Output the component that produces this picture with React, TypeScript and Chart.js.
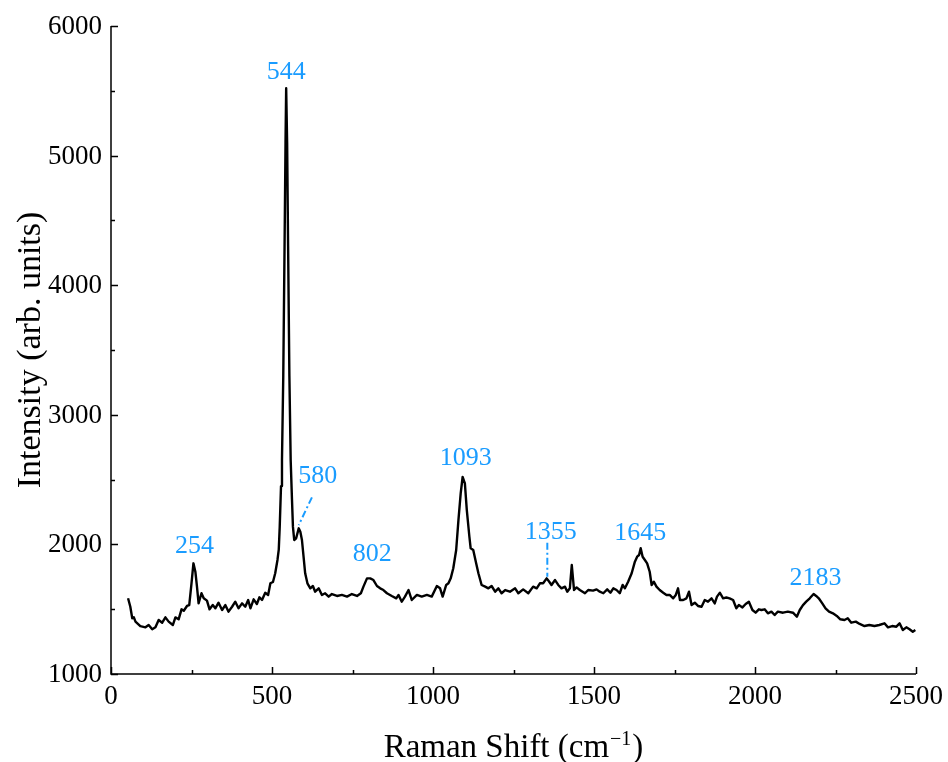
import React, { useEffect, useRef } from 'react';
import { Chart, registerables } from 'chart.js';

Chart.register(...registerables);

// Raman spectrum
const ramanShift = [
  53, 60, 66, 71, 76, 91, 107, 117, 128, 138, 148, 159, 169, 179, 192, 200, 210, 219, 226, 236,
  243, 250, 256, 262, 267, 272, 281, 288, 298, 306, 316, 324, 334, 345, 355, 365, 376, 386, 396, 407,
  417, 426, 433, 443, 453, 461, 469, 479, 488, 495, 503, 510, 517, 521, 524, 528, 531, 535, 539, 542,
  544, 547, 550, 554, 558, 562, 565, 569, 575, 583, 588, 593, 598, 603, 610, 619, 627, 634, 645, 655,
  665, 676, 686, 702, 717, 733, 748, 764, 776, 784, 795, 805, 815, 826, 836, 846, 857, 872, 886, 893,
  903, 913, 924, 934, 950, 965, 981, 996, 1012, 1022, 1030, 1041, 1048, 1055, 1063, 1072, 1079, 1086, 1092, 1099,
  1105, 1113, 1117, 1125, 1134, 1141, 1151, 1162, 1172, 1182, 1193, 1203, 1213, 1224, 1239, 1255, 1265, 1280, 1296, 1311,
  1322, 1332, 1342, 1353, 1361, 1368, 1379, 1389, 1399, 1410, 1417, 1425, 1431, 1438, 1446, 1456, 1472, 1482, 1497, 1508,
  1518, 1529, 1541, 1551, 1560, 1570, 1580, 1589, 1596, 1606, 1617, 1627, 1634, 1640, 1645, 1651, 1658, 1665, 1673, 1679,
  1686, 1694, 1704, 1715, 1725, 1735, 1746, 1754, 1761, 1767, 1777, 1787, 1795, 1803, 1813, 1823, 1834, 1844, 1854, 1865,
  1875, 1882, 1891, 1901, 1911, 1921, 1932, 1942, 1950, 1961, 1971, 1981, 1992, 2002, 2012, 2020, 2030, 2040, 2051, 2061,
  2071, 2087, 2102, 2118, 2130, 2139, 2149, 2159, 2170, 2182, 2190, 2198, 2209, 2219, 2230, 2242, 2254, 2265, 2278, 2288,
  2299, 2313, 2325, 2340, 2355, 2371, 2386, 2402, 2413, 2426, 2439, 2449, 2459, 2470, 2480, 2490, 2498,
];

const intensity = [
  1584, 1519, 1430, 1437, 1404, 1370, 1360, 1378, 1345, 1360, 1417, 1396, 1437, 1404, 1378, 1437, 1422, 1499, 1488, 1525,
  1532, 1700, 1854, 1789, 1674, 1545, 1623, 1584, 1566, 1499, 1532, 1507, 1550, 1494, 1532, 1481, 1519, 1558, 1507, 1545,
  1519, 1571, 1507, 1576, 1540, 1592, 1571, 1627, 1610, 1700, 1710, 1777, 1880, 1960, 2137, 2450, 2651, 3300, 4300, 5100,
  5520, 5100, 4300, 3300, 2651, 2350, 2137, 2034, 2047, 2124, 2098, 2034, 1905, 1777, 1700, 1661, 1679, 1635, 1661, 1610,
  1623, 1597, 1617, 1602, 1610, 1597, 1617, 1602, 1623, 1674, 1738, 1738, 1725, 1679, 1661, 1648, 1623, 1602, 1584, 1610,
  1558, 1597, 1648, 1571, 1610, 1597, 1610, 1597, 1679, 1661, 1597, 1687, 1700, 1738, 1816, 1957, 2188, 2394, 2520, 2471,
  2265, 2059, 1970, 1957, 1854, 1777, 1687, 1674, 1661, 1679, 1635, 1661, 1623, 1648, 1635, 1661, 1623, 1653, 1623, 1674,
  1661, 1700, 1700, 1738, 1712, 1687, 1725, 1687, 1661, 1674, 1635, 1661, 1841, 1648, 1668, 1648, 1623, 1648, 1643, 1653,
  1635, 1623, 1653, 1627, 1661, 1648, 1623, 1687, 1661, 1712, 1777, 1867, 1905, 1918, 1970, 1905, 1880, 1854, 1789, 1687,
  1712, 1674, 1648, 1627, 1610, 1610, 1584, 1610, 1661, 1571, 1571, 1584, 1635, 1532, 1550, 1525, 1519, 1571, 1558, 1584,
  1545, 1597, 1627, 1584, 1590, 1584, 1571, 1507, 1532, 1514, 1540, 1558, 1494, 1473, 1499, 1494, 1499, 1468, 1481, 1455,
  1481, 1473, 1481, 1473, 1442, 1494, 1532, 1558, 1584, 1617, 1602, 1584, 1545, 1507, 1481, 1468, 1448, 1422, 1417, 1430,
  1396, 1404, 1386, 1370, 1378, 1370, 1378, 1391, 1360, 1370, 1365, 1391, 1339, 1360, 1345, 1326, 1339,
];

// Axis ranges and tick steps
const xRange = [0, 2500];
const yRange = [1000, 6000];
const xMajorStep = 500;
const yMajorStep = 1000;

// Peak annotations (label text and the data point the text sits above)
const peakLabels = ['254', '544', '580', '802', '1093', '1355', '1645', '2183'];
const peakLabelX = [259, 544, 642, 811, 1102, 1366, 1644, 2188];
const peakLabelY = [1930, 5590, 2471, 1872, 2613, 2039, 2034, 1687];

// Dash-dot leader lines for the 580 and 1355 labels
const leaderStartX = [624, 1355];
const leaderStartY = [2363, 2013];
const leaderEndX = [583, 1355];
const leaderEndY = [2149, 1751];

const SERIF = "'Liberation Serif', 'Times New Roman', serif";
const ANNOT_COLOR = '#1a9cff';

const decorPlugin = {
  id: 'decor',
  afterDraw(chart: any) {
    const { ctx, chartArea: a } = chart;
    const xs = chart.scales.x;
    const ys = chart.scales.y;
    ctx.save();

    // spines
    ctx.strokeStyle = '#000';
    ctx.lineWidth = 1.5;
    ctx.beginPath();
    ctx.moveTo(a.left, a.top);
    ctx.lineTo(a.left, a.bottom);
    ctx.lineTo(a.right, a.bottom);
    ctx.stroke();

    // ticks (inward), majors from the scale, minors halfway
    const yt = ys.ticks.map((t: any) => t.value);
    const xt = xs.ticks.map((t: any) => t.value);
    ctx.beginPath();
    yt.forEach((v: number, i: number) => {
      const py = Math.round(ys.getPixelForValue(v)) + 0.5;
      ctx.moveTo(a.left, py);
      ctx.lineTo(a.left + 7, py);
      if (i < yt.length - 1) {
        const pm = Math.round(ys.getPixelForValue((v + yt[i + 1]) / 2)) + 0.5;
        ctx.moveTo(a.left, pm);
        ctx.lineTo(a.left + 4, pm);
      }
    });
    xt.forEach((v: number, i: number) => {
      const px = Math.round(xs.getPixelForValue(v)) + 0.5;
      ctx.moveTo(px, a.bottom);
      ctx.lineTo(px, a.bottom - 7);
      if (i < xt.length - 1) {
        const pm = Math.round(xs.getPixelForValue((v + xt[i + 1]) / 2)) + 0.5;
        ctx.moveTo(pm, a.bottom);
        ctx.lineTo(pm, a.bottom - 4);
      }
    });
    ctx.stroke();

    // tick labels
    ctx.fillStyle = '#000';
    ctx.font = `27px ${SERIF}`;
    ctx.textAlign = 'right';
    ctx.textBaseline = 'middle';
    yt.forEach((v: number) => {
      ctx.fillText(String(v), a.left - 9, ys.getPixelForValue(v) + 1);
    });
    ctx.textAlign = 'center';
    ctx.textBaseline = 'alphabetic';
    xt.forEach((v: number) => {
      ctx.fillText(String(v), xs.getPixelForValue(v), a.bottom + 30);
    });

    // x title with superscript
    const cx = (a.left + a.right) / 2;
    const mainFont = `33px ${SERIF}`;
    const supFont = `20px ${SERIF}`;
    const part1 = 'Raman Shift (cm';
    const sup = '\u22121';
    const part3 = ')';
    ctx.font = mainFont;
    const w1 = ctx.measureText(part1).width;
    const w3 = ctx.measureText(part3).width;
    ctx.font = supFont;
    const w2 = ctx.measureText(sup).width;
    const total = w1 + w2 + w3 + 2;
    let sx = cx - total / 2;
    const by = 757;
    ctx.textAlign = 'left';
    ctx.font = mainFont;
    ctx.fillText(part1, sx, by);
    sx += w1 + 1;
    ctx.font = supFont;
    ctx.fillText(sup, sx, by - 12);
    sx += w2 + 1;
    ctx.font = mainFont;
    ctx.fillText(part3, sx, by);

    // y title
    ctx.save();
    ctx.translate(40, (a.top + a.bottom) / 2);
    ctx.rotate(-Math.PI / 2);
    ctx.textAlign = 'center';
    ctx.font = `34px ${SERIF}`;
    ctx.fillText('Intensity (arb. units)', 0, 0);
    ctx.restore();

    // annotations
    ctx.fillStyle = ANNOT_COLOR;
    ctx.font = `26px ${SERIF}`;
    ctx.textAlign = 'center';
    ctx.textBaseline = 'alphabetic';
    peakLabels.forEach((t, i) => {
      ctx.fillText(t, xs.getPixelForValue(peakLabelX[i]), ys.getPixelForValue(peakLabelY[i]));
    });
    ctx.strokeStyle = ANNOT_COLOR;
    ctx.lineWidth = 2;
    ctx.setLineDash([7, 3, 2, 3]);
    leaderStartX.forEach((_, i) => {
      ctx.beginPath();
      ctx.moveTo(xs.getPixelForValue(leaderStartX[i]), ys.getPixelForValue(leaderStartY[i]));
      ctx.lineTo(xs.getPixelForValue(leaderEndX[i]), ys.getPixelForValue(leaderEndY[i]));
      ctx.stroke();
    });
    ctx.restore();
  },
};

export default function App() {
  const ref = useRef<HTMLCanvasElement | null>(null);

  useEffect(() => {
    if (!ref.current) return;
    const points = ramanShift.map((x, i) => ({ x, y: intensity[i] }));
    const chart = new Chart(ref.current, {
      type: 'line',
      data: {
        datasets: [
          {
            data: points,
            borderColor: '#000',
            borderWidth: 2.4,
            borderJoinStyle: 'round',
            pointRadius: 0,
            tension: 0,
            fill: false,
          },
        ],
      },
      options: {
        animation: false,
        responsive: false,
        maintainAspectRatio: false,
        layout: { padding: { left: 0, top: 26, right: 32, bottom: 0 } },
        plugins: {
          legend: { display: false },
          tooltip: { enabled: false },
        },
        scales: {
          x: {
            type: 'linear',
            min: xRange[0],
            max: xRange[1],
            ticks: { display: false, stepSize: xMajorStep },
            grid: { display: false },
            border: { display: false },
            afterFit: (s: any) => {
              s.height = 88;
            },
          },
          y: {
            type: 'linear',
            min: yRange[0],
            max: yRange[1],
            ticks: { display: false, stepSize: yMajorStep },
            grid: { display: false },
            border: { display: false },
            afterFit: (s: any) => {
              s.width = 111;
            },
          },
        },
      },
      plugins: [decorPlugin],
    });
    return () => chart.destroy();
  }, []);

  return (
    <div style={{ position: 'absolute', left: 0, top: 0, width: 948, height: 762, background: '#fff' }}>
      <canvas ref={ref} width={948} height={762} style={{ display: 'block' }} />
    </div>
  );
}
